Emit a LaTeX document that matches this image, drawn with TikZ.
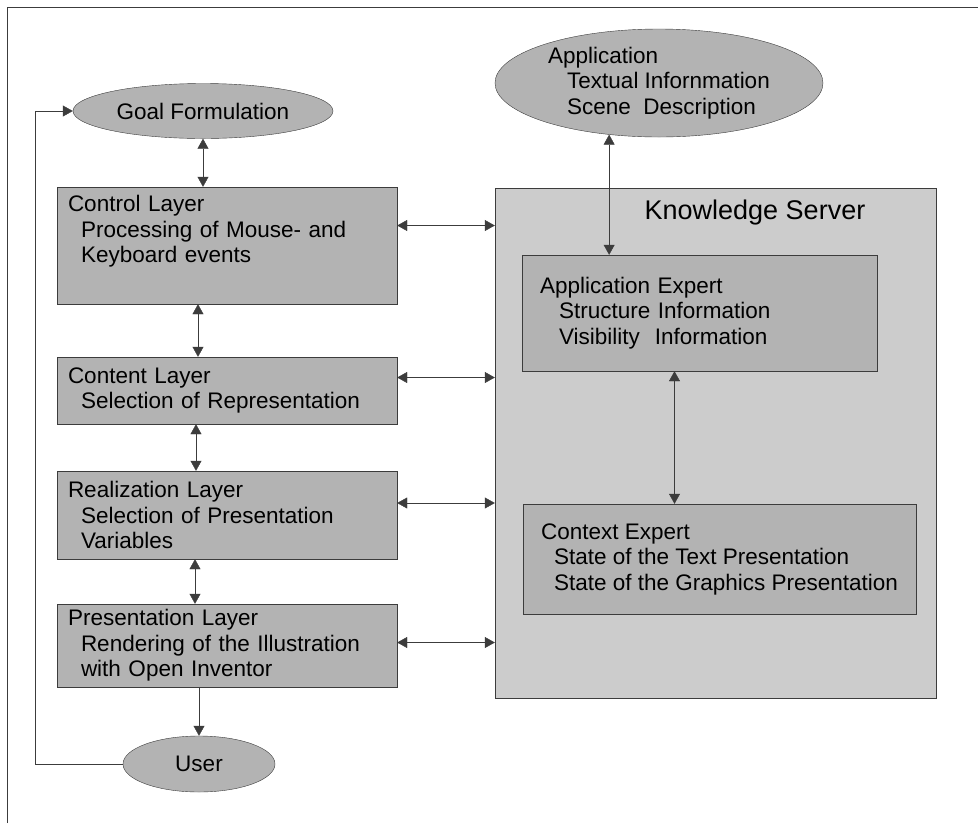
\documentclass[tikz,border=0pt]{standalone}
\usepackage{fontspec}
\setmainfont{Liberation Sans}
\usepackage{tikz}
\usetikzlibrary{calc,shapes,arrows.meta}

\definecolor{boxgray}{RGB}{179,179,179}
\definecolor{servergray}{RGB}{204,204,204}
\definecolor{linegray}{RGB}{60,60,60}

\begin{document}
\begin{tikzpicture}[x=1pt,y=-1pt,
        every node/.style={font=\fontsize{22.5}{25.5}\selectfont},
        layer/.style={draw=linegray,fill=boxgray,rectangle,align=left,
            text width=318pt,inner xsep=11pt,minimum width=340pt},
        expert/.style={draw=linegray,fill=boxgray,rectangle,align=left,inner xsep=18pt},
        oval/.style={draw=linegray,fill=boxgray,ellipse,inner sep=0pt},
        biarrow/.style={draw=linegray,{Triangle[length=10pt,width=11pt]}-{Triangle[length=10pt,width=11pt]}},
        onearrow/.style={draw=linegray,-{Triangle[length=10pt,width=11pt]}}]
    \useasboundingbox (0,0) rectangle (978,823);
    \draw[linegray] (7,823) -- (7,7) -- (978,7);

    % left column
    \node[oval,minimum width=260pt,minimum height=55pt] (goal) at (203,111) {Goal Formulation};
    \node[layer,minimum height=117pt] (control) at (227,245.5)
        {Control Layer\\\hspace*{13pt}Processing of Mouse- and\\\hspace*{13pt}Keyboard events\\\strut};
    \node[layer,minimum height=67pt] (content) at (227,390.5)
        {Content Layer\\\hspace*{13pt}Selection of Representation};
    \node[layer,minimum height=88pt] (realization) at (227,515)
        {Realization Layer\\\hspace*{13pt}Selection of Presentation\\\hspace*{13pt}Variables};
    \node[layer,minimum height=83pt] (presentation) at (227,645.5)
        {Presentation Layer\\\hspace*{13pt}Rendering of the Illustration\\\hspace*{13pt}with Open Inventor};
    \node[oval,minimum width=152pt,minimum height=56pt] (user) at (199,764) {User};

    % right column
    \node[draw=linegray,fill=servergray,rectangle,minimum width=441pt,minimum height=510pt] (server) at (715.5,443) {};
    \node[font=\fontsize{27}{32}\selectfont] (servertitle) at (755,213) {Knowledge Server};
    \node[oval,minimum width=328pt,minimum height=108pt,align=left] (application) at (659,83)
        {Application\\\hspace*{19pt}Textual Infornmation\\\hspace*{19pt}Scene\ \ Description};
    \node[expert,text width=319pt,minimum height=116pt] (appexpert) at (699.5,313)
        {Application Expert\\\hspace*{19pt}Structure Information\\\hspace*{19pt}Visibility\ \ Information};
    \node[expert,inner xsep=15pt,minimum width=393pt,minimum height=110pt] (contextexpert) at (719.5,559)
        {Context Expert\\\hspace*{13pt}State of the Text Presentation\\\hspace*{13pt}State of the Graphics Presentation};

    % connectors
    \draw[biarrow] (goal.south) -- (goal.south |- control.north);
    \draw[biarrow] ([xshift=-29pt]control.south) -- ([xshift=-29pt]content.north);
    \draw[biarrow] ([xshift=-31pt]content.south) -- ([xshift=-31pt]realization.north);
    \draw[biarrow] ([xshift=-32pt]realization.south) -- ([xshift=-32pt]presentation.north);
    \draw[onearrow] (user.north |- presentation.south) -- (user.north);
    \draw[onearrow] (user.west) -- ++(-88,0) |- (goal.west);

    \draw[biarrow] ([yshift=20pt]control.east) -- ([yshift=20pt]control.east -| server.west);
    \draw[biarrow] ([yshift=13pt]content.east) -- ([yshift=13pt]content.east -| server.west);
    \draw[biarrow] ([yshift=12pt]realization.east) -- ([yshift=12pt]realization.east -| server.west);
    \draw[biarrow] ([yshift=3pt]presentation.east) -- ([yshift=3pt]presentation.east -| server.west);

    \draw[biarrow] (application.226) -- (application.226 |- appexpert.north);
    \draw[biarrow] ([xshift=-25pt]appexpert.south) -- ([xshift=-25pt]appexpert.south |- contextexpert.north);
\end{tikzpicture}
\end{document}
